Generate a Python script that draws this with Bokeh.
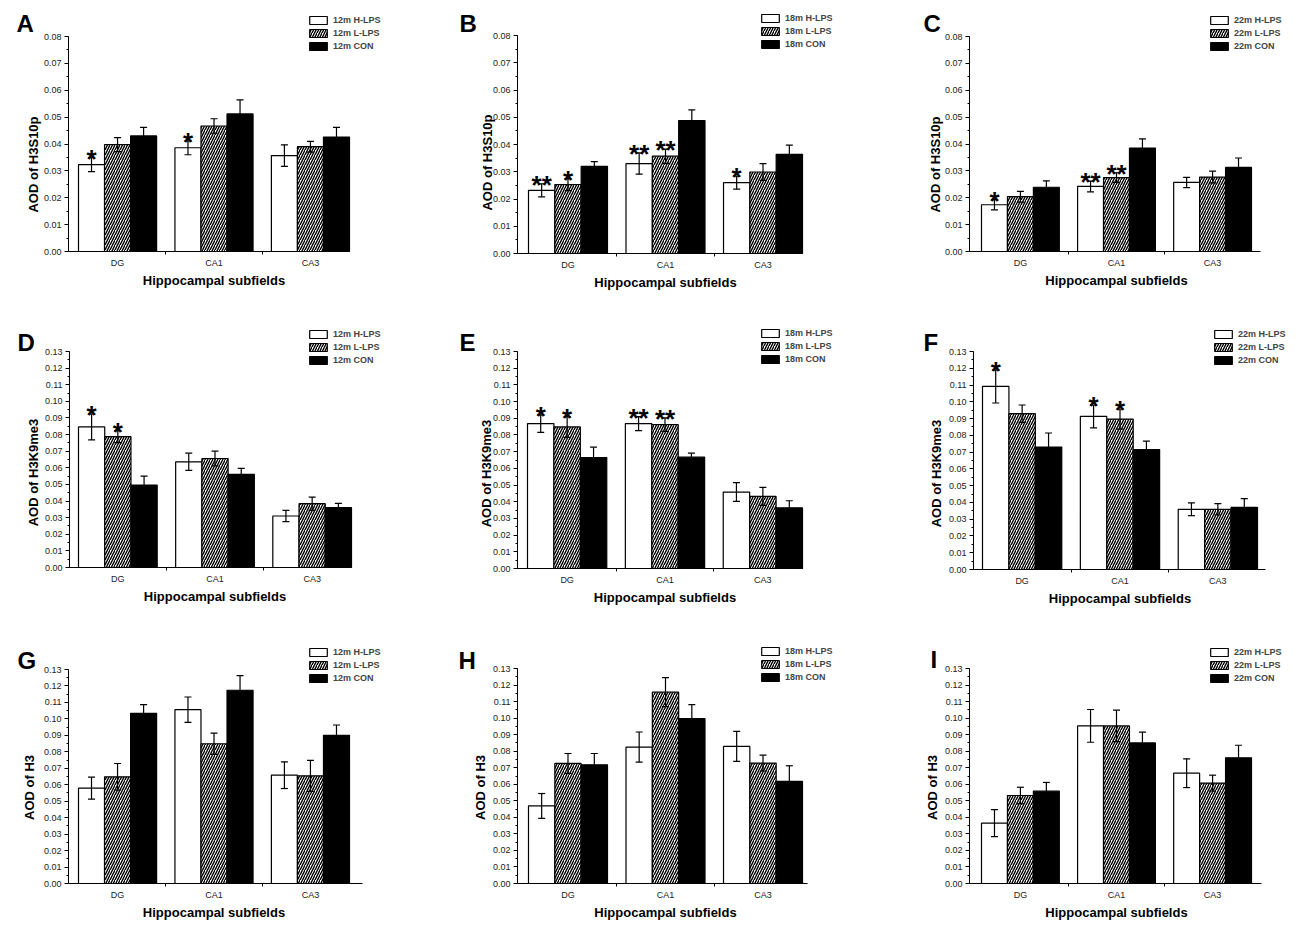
from math import pi
from bokeh.plotting import figure
from bokeh.layouts import column, row
from bokeh.models import (Range1d, FixedTicker, NumeralTickFormatter, Legend,
                          LegendItem)
from bokeh.core.properties import value
from bokeh.embed import file_html
from bokeh.resources import INLINE

# ---------------- data ----------------
subfields = ["DG", "CA1", "CA3"]
treatments = ["H-LPS", "L-LPS", "CON"]
xlabel = "Hippocampal subfields"

ages = ["12m", "18m", "22m", "12m", "18m", "22m", "12m", "18m", "22m"]
letters = ["A", "B", "C", "D", "E", "F", "G", "H", "I"]
ylabels = ["AOD of H3S10p"] * 3 + ["AOD of H3K9me3"] * 3 + ["AOD of H3"] * 3
ymaxes = [0.08] * 3 + [0.13] * 6

# panel A (12m H3S10p)
A_H = [0.0323, 0.0386, 0.0357]; A_He = [0.0026, 0.0026, 0.0040]
A_L = [0.0398, 0.0467, 0.0390]; A_Le = [0.0026, 0.0027, 0.0020]
A_C = [0.0430, 0.0512, 0.0426]; A_Ce = [0.0032, 0.0052, 0.0036]
A_Hs = ["*", "*", ""]; A_Ls = ["", "", ""]
# panel B (18m H3S10p)
B_H = [0.0232, 0.0330, 0.0260]; B_He = [0.0024, 0.0039, 0.0024]
B_L = [0.0253, 0.0357, 0.0299]; B_Le = [0.0022, 0.0026, 0.0031]
B_C = [0.0320, 0.0488, 0.0364]; B_Ce = [0.0017, 0.0039, 0.0034]
B_Hs = ["**", "**", "*"]; B_Ls = ["*", "**", ""]
# panel C (22m H3S10p)
C_H = [0.0174, 0.0242, 0.0257]; C_He = [0.0019, 0.0020, 0.0019]
C_L = [0.0204, 0.0275, 0.0277]; C_Le = [0.0020, 0.0018, 0.0022]
C_C = [0.0239, 0.0385, 0.0313]; C_Ce = [0.0024, 0.0034, 0.0035]
C_Hs = ["*", "**", ""]; C_Ls = ["", "**", ""]
# panel D (12m H3K9me3)
D_H = [0.0846, 0.0636, 0.0310]; D_He = [0.0078, 0.0052, 0.0034]
D_L = [0.0788, 0.0656, 0.0384]; D_Le = [0.0036, 0.0044, 0.0040]
D_C = [0.0496, 0.0560, 0.0360]; D_Ce = [0.0054, 0.0036, 0.0026]
D_Hs = ["*", "", ""]; D_Ls = ["*", "", ""]
# panel E (18m H3K9me3)
E_H = [0.0868, 0.0868, 0.0458]; E_He = [0.0052, 0.0042, 0.0056]
E_L = [0.0848, 0.0862, 0.0432]; E_Le = [0.0062, 0.0040, 0.0054]
E_C = [0.0665, 0.0667, 0.0364]; E_Ce = [0.0062, 0.0024, 0.0042]
E_Hs = ["*", "**", ""]; E_Ls = ["*", "**", ""]
# panel F (22m H3K9me3)
F_H = [0.1092, 0.0913, 0.0359]; F_He = [0.0099, 0.0068, 0.0038]
F_L = [0.0929, 0.0897, 0.0359]; F_Le = [0.0052, 0.0060, 0.0034]
F_C = [0.0730, 0.0715, 0.0371]; F_Ce = [0.0084, 0.0051, 0.0052]
F_Hs = ["*", "*", ""]; F_Ls = ["", "*", ""]
# panel G (12m H3)
G_H = [0.0579, 0.1056, 0.0658]; G_He = [0.0067, 0.0077, 0.0081]
G_L = [0.0648, 0.0849, 0.0654]; G_Le = [0.0081, 0.0065, 0.0094]
G_C = [0.1034, 0.1174, 0.0900]; G_Ce = [0.0053, 0.0089, 0.0063]
G_Hs = ["", "", ""]; G_Ls = ["", "", ""]
# panel H (18m H3)
H_H = [0.0469, 0.0825, 0.0829]; H_He = [0.0075, 0.0091, 0.0091]
H_L = [0.0726, 0.1157, 0.0728]; H_Le = [0.0060, 0.0088, 0.0048]
H_C = [0.0718, 0.0997, 0.0617]; H_Ce = [0.0068, 0.0085, 0.0095]
H_Hs = ["", "", ""]; H_Ls = ["", "", ""]
# panel I (22m H3)
I_H = [0.0365, 0.0953, 0.0667]; I_He = [0.0082, 0.0099, 0.0087]
I_L = [0.0532, 0.0953, 0.0607]; I_Le = [0.0050, 0.0095, 0.0048]
I_C = [0.0558, 0.0850, 0.0760]; I_Ce = [0.0053, 0.0065, 0.0076]
I_Hs = ["", "", ""]; I_Ls = ["", "", ""]

panel_data = [
    (A_H, A_He, A_L, A_Le, A_C, A_Ce, A_Hs, A_Ls),
    (B_H, B_He, B_L, B_Le, B_C, B_Ce, B_Hs, B_Ls),
    (C_H, C_He, C_L, C_Le, C_C, C_Ce, C_Hs, C_Ls),
    (D_H, D_He, D_L, D_Le, D_C, D_Ce, D_Hs, D_Ls),
    (E_H, E_He, E_L, E_Le, E_C, E_Ce, E_Hs, E_Ls),
    (F_H, F_He, F_L, F_Le, F_C, F_Ce, F_Hs, F_Ls),
    (G_H, G_He, G_L, G_Le, G_C, G_Ce, G_Hs, G_Ls),
    (H_H, H_He, H_L, H_Le, H_C, H_Ce, H_Hs, H_Ls),
    (I_H, I_He, I_L, I_Le, I_C, I_Ce, I_Hs, I_Ls),
]

# ---------------- layout (screen pixels) ----------------
col_x = [0, 434, 866]
col_w = [434, 432, 433]
row_y = [0, 305, 615]
row_h = [305, 310, 315]
# axis-left, axis-right, first-bar-left, last-bar-right, zero line, top tick,
# legend left, legend top, letter left, letter baseline, ylabel centre x, ylabel centre y
geom = [
    (68, 348, 78, 349, 251, 36, 307, 15, 16, 23, 33, 164),
    (517, 802, 528, 802, 253, 35, 759, 13, 459, 23, 487, 162),
    (969, 1260, 981, 1251, 251, 36, 1208, 15, 923, 23, 935, 164),
    (69, 350, 78, 351, 567, 351, 307, 329, 17, 342, 33, 472),
    (517, 802, 527, 802, 568, 351, 759, 328, 459, 342, 486, 473),
    (973, 1265, 982, 1257, 569, 351, 1212, 329, 923, 342, 936, 473),
    (68, 362, 78, 349, 883, 669, 307, 647, 17, 660, 29, 787),
    (517, 807, 528, 802, 883, 668, 759, 646, 458, 660, 480, 787),
    (969, 1261, 981, 1251, 883, 668, 1208, 647, 930, 659, 932, 787),
]

FONT = "Liberation Sans"
BW = 0.27
offsets = [-BW, 0.0, BW]
LEG_H = 36
XLABEL_DY = 29


def make_panel(i):
    r, c = divmod(i, 3)
    al, ar, gl, cr, zero, top, lgx, lgy, ltx, lty, ylx, yly = geom[i]
    ymax = ymaxes[i]
    fx0, fw = col_x[c], col_w[c]
    fy0, fh = row_y[r], row_h[r]
    s = (cr - gl) / (2 + 3 * BW)          # px per x unit
    k = (zero - top) / ymax               # px per y unit
    x_first = 1 - 1.5 * BW
    x_last = 3 + 1.5 * BW
    xr0 = x_first - (gl - fx0) / s
    xr1 = xr0 + fw / s
    yr0 = -(fy0 + fh - zero) / k
    yr1 = (zero - fy0) / k

    def dx(px):
        return xr0 + (px - fx0) / s

    def dy(py):
        return (zero - py) / k

    p = figure(width=fw, height=fh, title=None,
               x_range=Range1d(xr0, xr1), y_range=Range1d(yr0, yr1),
               output_backend="svg", toolbar_location=None,
               min_border=0, min_border_left=0, min_border_right=0,
               min_border_top=0, min_border_bottom=0)
    p.outline_line_color = None
    p.grid.visible = False
    p.background_fill_color = "white"
    p.border_fill_color = "white"

    H, He, L, Le, C, Ce, Hs, Ls = panel_data[i]
    vals = [H, L, C]
    errs = [He, Le, Ce]
    styles = [dict(fill_color="white"),
              dict(fill_color="white", hatch_pattern="/", hatch_color="black",
                   hatch_scale=5, hatch_weight=1.4),
              dict(fill_color="black")]
    rends = []
    for g in range(3):
        xs = [kk + 1 + offsets[g] for kk in range(3)]
        rb = p.vbar(x=xs, top=vals[g], width=BW, bottom=0, line_color="black",
                    line_width=1.2, **styles[g])
        rends.append(rb)
    for g in range(3):
        xs = [kk + 1 + offsets[g] for kk in range(3)]
        up = [v + e for v, e in zip(vals[g], errs[g])]
        lo = [v - e for v, e in zip(vals[g], errs[g])]
        p.segment(x0=xs, y0=lo, x1=xs, y1=up, line_color="black", line_width=1.2)
        p.scatter(x=xs + xs, y=up + lo, marker="dash", size=7,
                  line_color="black", line_width=1.2)
    for g, st in ((0, Hs), (1, Ls)):
        xs = [kk + 1 + offsets[g] for kk in range(3)]
        up = [v + e for v, e in zip(vals[g], errs[g])]
        p.text(x=xs, y=up, text=st, text_align="center", text_baseline="alphabetic",
               y_offset=1, text_font=value(FONT), text_font_style="bold",
               text_font_size="26px", text_color="black")

    # axes (library axes, pinned at the data origin)
    ax_left = x_first - (gl - al) / s
    ax_right = x_last + (ar - cr) / s

    xa = p.xaxis[0]
    xa.fixed_location = 0
    xa.ticker = FixedTicker(ticks=[1, 2, 3], minor_ticks=[1.5, 2.5])
    xa.major_label_overrides = {1: subfields[0], 2: subfields[1], 3: subfields[2]}
    xa.bounds = (ax_left, ax_right)
    xa.major_tick_out = 0
    xa.major_tick_in = 0
    xa.minor_tick_out = 3
    xa.minor_tick_in = 0
    xa.major_label_standoff = 3

    ya = p.yaxis[0]
    ya.fixed_location = ax_left
    n = int(round(ymax / 0.01))
    ya.ticker = FixedTicker(ticks=[kk / 100 for kk in range(n + 1)],
                            minor_ticks=[kk / 200 for kk in range(2 * n + 1)])
    ya.formatter = NumeralTickFormatter(format="0.00")
    ya.bounds = (0, ymax)
    ya.major_tick_out = 4
    ya.major_tick_in = 0
    ya.minor_tick_out = 2
    ya.minor_tick_in = 0
    ya.major_label_standoff = 3

    for ax in (xa, ya):
        ax.axis_line_color = "black"
        ax.axis_line_width = 1
        ax.major_tick_line_color = "black"
        ax.minor_tick_line_color = "black"
        ax.major_label_text_font = FONT
        ax.major_label_text_font_size = "9px"
        ax.major_label_text_color = "#222222"

    # axis titles and panel letter
    p.text(x=[2], y=[dy(zero + XLABEL_DY)], text=[xlabel], text_align="center",
           text_baseline="middle", text_font=value(FONT), text_font_style="bold",
           text_font_size="13px", text_color="black")
    p.text(x=[dx(ylx)], y=[dy(yly)], text=[ylabels[i]], angle=pi / 2,
           text_align="center", text_baseline="middle", text_font=value(FONT),
           text_font_style="bold", text_font_size="13px", text_color="black")
    p.text(x=[dx(ltx)], y=[dy(lty)], text=[letters[i]], text_align="left",
           text_baseline="alphabetic", text_font=value(FONT), text_font_style="bold",
           text_font_size="24px", text_color="black")

    items = [LegendItem(label=f"{ages[i]} {treatments[g]}", renderers=[rends[g]])
             for g in range(3)]
    leg = Legend(items=items, location=(lgx - fx0, fy0 + fh - (lgy + LEG_H)),
                 orientation="vertical", padding=0, margin=0, spacing=3,
                 glyph_width=22, glyph_height=10, label_height=10,
                 label_standoff=4, label_text_font=FONT,
                 label_text_font_size="9px", label_text_font_style="bold",
                 border_line_color=None, background_fill_alpha=0)
    p.add_layout(leg)
    return p


panels = [make_panel(i) for i in range(9)]
layout = column(row(*panels[0:3]), row(*panels[3:6]), row(*panels[6:9]))

open("out.html", "w").write(file_html(layout, INLINE))
